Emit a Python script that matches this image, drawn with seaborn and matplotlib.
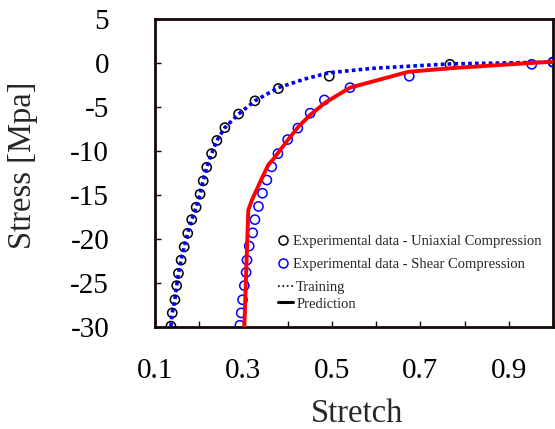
import numpy as np
import pandas as pd
import matplotlib
matplotlib.use("Agg")
import matplotlib.pyplot as plt
import seaborn as sns
from matplotlib.lines import Line2D

# ---- data ----
uni_x = [0.136, 0.139, 0.145, 0.149, 0.153, 0.159, 0.166, 0.174, 0.183, 0.193,
         0.202, 0.209, 0.217, 0.228, 0.240, 0.258, 0.289, 0.326, 0.379, 0.494,
         0.767, 1.000]
uni_y = [-29.9, -28.4, -26.9, -25.3, -23.9, -22.4, -20.9, -19.35, -17.8, -16.4,
         -14.9, -13.4, -11.85, -10.3, -8.8, -7.35, -5.8, -4.3, -2.9, -1.5,
         -0.15, 0.1]

shear_x = [0.292, 0.295, 0.298, 0.302, 0.306, 0.308, 0.313, 0.321, 0.326, 0.334,
           0.343, 0.353, 0.364, 0.378, 0.400, 0.423, 0.451, 0.483, 0.541, 0.675,
           0.952, 1.000]
shear_y = [-29.8, -28.4, -26.9, -25.3, -23.8, -22.4, -20.8, -19.3, -17.8, -16.3,
           -14.8, -13.3, -11.8, -10.3, -8.7, -7.4, -5.7, -4.2, -2.8, -1.5,
           -0.15, 0.1]

train_x = [0.136, 0.139, 0.145, 0.149, 0.153, 0.159, 0.166, 0.174, 0.183, 0.193,
           0.202, 0.209, 0.217, 0.228, 0.240, 0.258, 0.289, 0.326, 0.379, 0.440,
           0.494, 0.594, 0.767, 1.000]
train_y = [-29.9, -28.4, -26.9, -25.3, -23.9, -22.4, -20.9, -19.35, -17.8, -16.4,
           -14.9, -13.4, -11.85, -10.3, -8.8, -7.35, -5.8, -4.3, -2.8, -1.8,
           -1.1, -0.6, -0.1, 0.1]

pred_x = [0.302, 0.306, 0.311, 0.319, 0.337, 0.356, 0.368, 0.398, 0.425, 0.451,
          0.485, 0.541, 0.673, 0.767, 0.948, 1.000]
pred_y = [-30.0, -24.0, -16.7, -15.6, -13.6, -11.6, -10.9, -8.9, -7.2, -5.9,
          -4.5, -2.8, -1.0, -0.6, 0.0, 0.15]

x_ticks = [0.1, 0.2, 0.3, 0.4, 0.5, 0.6, 0.7, 0.8, 0.9, 1.0]
x_ticklabels = ["0.1", "", "0.3", "", "0.5", "", "0.7", "", "0.9", ""]
y_ticks = [5, 0, -5, -10, -15, -20, -25, -30]

labels = ["Experimental data - Uniaxial Compression",
          "Experimental data - Shear Compression",
          "Training", "Prediction"]

sns.set_theme(style="white")
plt.rcParams["font.family"] = ["Liberation Serif", "DejaVu Serif"]

fig = plt.figure(figsize=(5.55, 4.29), dpi=100)
ax = fig.add_axes([155 / 555, (429 - 327) / 429, 398 / 555, 308 / 429])

uni = pd.DataFrame({"x": uni_x, "y": uni_y})
shear = pd.DataFrame({"x": shear_x, "y": shear_y})
train = pd.DataFrame({"x": train_x, "y": train_y})
pred = pd.DataFrame({"x": pred_x, "y": pred_y})

sns.scatterplot(data=uni, x="x", y="y", ax=ax, marker="o", s=44,
                facecolor="none", edgecolor="black", linewidth=1.1, zorder=3)
sns.scatterplot(data=shear, x="x", y="y", ax=ax, marker="o", s=44,
                facecolor="none", edgecolor="#0000ff", linewidth=1.1, zorder=3)
sns.lineplot(data=train, x="x", y="y", ax=ax, sort=False, estimator=None,
             color="#0000ee", linewidth=2.6, dashes=False, zorder=4)
ax.lines[-1].set_dashes((1.0, 0.9))
ax.lines[-1].set_dash_capstyle("butt")
sns.lineplot(data=pred, x="x", y="y", ax=ax, sort=False, estimator=None,
             color="#ff0000", linewidth=2.8, zorder=5)

ax.set_xlim(0.1, 1.0)
ax.set_ylim(-30, 5)
ax.set_xticks(x_ticks)
ax.set_xticklabels(x_ticklabels)
ax.set_yticks(y_ticks)
ax.set_yticklabels([str(v) for v in y_ticks])

for sp in ax.spines.values():
    sp.set_visible(True)
    sp.set_color("#140808")
    sp.set_linewidth(2.0)

ax.tick_params(axis="both", direction="in", length=4.5, width=1.0,
               colors="#140808", labelcolor="black", labelsize=21,
               left=True, bottom=True, top=False, right=False)
ax.tick_params(axis="y", pad=33)
ax.tick_params(axis="x", pad=22)

ax.set_xlabel("Stretch", fontsize=23.5)
ax.set_ylabel("Stress [Mpa]", fontsize=23.5)
ax.xaxis.set_label_coords(0.5075, -0.232)
ax.xaxis.label.set_va("top")
ax.yaxis.set_label_coords(-0.294, 0.524)

h1 = [Line2D([], [], linestyle="none", marker="o", markersize=6.5,
             markerfacecolor="none", markeredgecolor="black", markeredgewidth=1.1),
      Line2D([], [], linestyle="none", marker="o", markersize=6.5,
             markerfacecolor="none", markeredgecolor="#0000ff", markeredgewidth=1.1)]
h2 = [Line2D([], [], color="black", linestyle=":", linewidth=1.2),
      Line2D([], [], color="black", linestyle="-", linewidth=2.2)]

leg1 = ax.legend(h1, labels[:2], loc="upper left", bbox_to_anchor=(0.308, 0.299),
                 frameon=False, fontsize=10.5, handlelength=0.8, handletextpad=0.25,
                 labelspacing=0.65, borderpad=0, borderaxespad=0)
ax.add_artist(leg1)
ax.legend(h2, labels[2:], loc="upper left", bbox_to_anchor=(0.309, 0.151),
          frameon=False, fontsize=10.5, handlelength=1.0, handletextpad=0.25,
          labelspacing=0.25, borderpad=0, borderaxespad=0)

fig.savefig("out.png", dpi=100)
